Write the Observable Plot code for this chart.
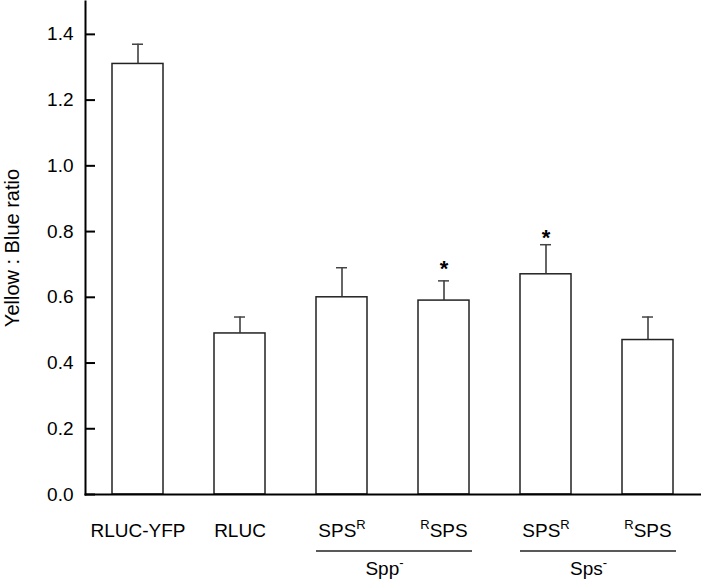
<!DOCTYPE html>
<html><head><meta charset="utf-8">
<script src="https://cdn.jsdelivr.net/npm/d3@7"></script>
<script src="https://cdn.jsdelivr.net/npm/@observablehq/plot@0.6"></script>
<style>html,body{margin:0;padding:0;background:#fff} svg{display:block}</style>
</head><body><div id="chart"></div>
<script>
// ---- data ----
const categories = ["RLUC-YFP", "RLUC", "Spp-SPSR", "Spp-RSPS", "Sps-SPSR", "Sps-RSPS"];
const tickLabels = ["RLUC-YFP", "RLUC", "SPS^R", "^RSPS", "SPS^R", "^RSPS"];
const ratios = [1.31, 0.49, 0.60, 0.59, 0.67, 0.47];
const errorTops = [1.37, 0.54, 0.69, 0.65, 0.76, 0.54];
const starCategories = ["Spp-RSPS", "Sps-SPSR"];
const starValues = [0.685, 0.78];
const groupLabels = ["Spp^-", "Sps^-"];
const groupFirst = ["Spp-SPSR", "Sps-SPSR"];
const groupLast = ["Spp-RSPS", "Sps-RSPS"];
const yTicks = [0, 0.2, 0.4, 0.6, 0.8, 1.0, 1.2, 1.4];
const yLabel = "Yellow : Blue ratio";

const rows = categories.map((c, i) => ({cat: c, value: ratios[i], err: errorTops[i]}));
const stars = starCategories.map((c, i) => ({cat: c, y: starValues[i]}));
const labelOf = new Map(categories.map((c, i) => [c, tickLabels[i]]));

const font = "'Liberation Sans', Arial, Helvetica, sans-serif";

const plot = Plot.plot({
  width: 701,
  height: 581,
  marginLeft: 85,
  marginRight: 1,
  marginTop: 1,
  marginBottom: 87,
  style: {fontFamily: font, fontSize: "19px", color: "#000", background: "#fff", overflow: "visible"},
  x: {domain: categories, paddingInner: 0.5, paddingOuter: 0.25},
  y: {domain: [0, 1.5]},
  marks: [
    Plot.barY(rows, {x: "cat", y: "value", fill: "white", stroke: "#222", strokeWidth: 1.5}),
    Plot.ruleX(rows, {x: "cat", y1: "value", y2: "err", stroke: "#333", strokeWidth: 1.5}),
    Plot.tickY(rows, {x: "cat", y: "err", stroke: "#444", strokeWidth: 1.5, insetLeft: 20, insetRight: 20}),
    Plot.text(stars, {x: "cat", y: "y", text: () => "*", fontSize: 22, fontWeight: "bold", lineAnchor: "middle"}),
    Plot.frame({anchor: "left", stroke: "#000", strokeWidth: 2}),
    Plot.frame({anchor: "bottom", stroke: "#000", strokeWidth: 2}),
    Plot.axisY({ticks: yTicks, tickFormat: d3.format(".1f"), tickSize: -10, tickPadding: 22, strokeWidth: 2, label: null, fontSize: 19}),
    Plot.axisX({tickSize: 0, tickPadding: 29, tickFormat: (d) => labelOf.get(d), label: null, fontSize: 19}),
    Plot.text([yLabel], {frameAnchor: "left", textAnchor: "middle", rotate: -90, dx: -73, lineAnchor: "middle", fontSize: 20, text: (d) => d})
  ]
});

document.getElementById("chart").appendChild(plot);

// group brackets below the axis, positioned from the x scale
const svgNS = "http://www.w3.org/2000/svg";
const xs = plot.scale("x");
const yBottom = plot.scale("y").range[0];
const svg = d3.select(plot);
const g = svg.append("g").attr("font-family", font).attr("font-size", 19);
groupLabels.forEach((lab, i) => {
  const x1 = xs.apply(groupFirst[i]);
  const x2 = xs.apply(groupLast[i]) + xs.bandwidth;
  g.append("line").attr("x1", x1).attr("x2", x2 + 3)
    .attr("y1", yBottom + 57).attr("y2", yBottom + 57)
    .attr("stroke", "#222").attr("stroke-width", 1.5);
  g.append("text").attr("x", (x1 + x2) / 2 - 8).attr("y", yBottom + 81)
    .attr("text-anchor", "middle").text(lab);
});

// superscripts
function applySup(el) {
  const s = el.textContent;
  if (!s.includes("^")) return;
  const parts = s.split(/(\^.)/).filter((p) => p !== "");
  el.textContent = "";
  for (const p of parts) {
    const t = document.createElementNS(svgNS, "tspan");
    if (p.startsWith("^")) {
      t.textContent = p.slice(1);
      t.setAttribute("font-size", "13");
      t.setAttribute("baseline-shift", "8px");
    } else {
      t.textContent = p;
    }
    el.appendChild(t);
  }
}
plot.querySelectorAll("text").forEach(applySup);
</script>
</body></html>
